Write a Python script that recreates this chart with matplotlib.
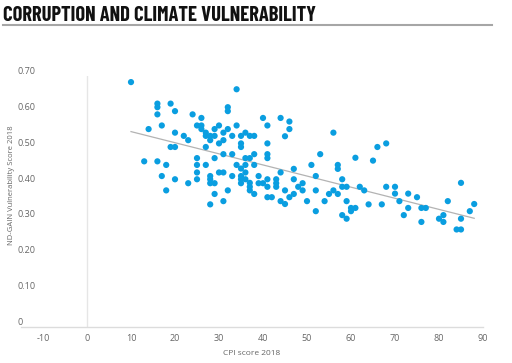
import numpy as np
import matplotlib
matplotlib.use('Agg')
import matplotlib.pyplot as plt
import matplotlib.transforms as mtransforms
from matplotlib.lines import Line2D

# CPI score 2018 (x) y ND-GAIN vulnerability 2018 (y)
cpi = [10, 16, 16, 16, 19, 20, 17, 14, 20, 19, 20, 13, 16, 18, 17, 20, 18, 22, 23, 24, 23,
       26, 25, 26, 26, 27, 27, 28, 28, 29, 29, 30, 31, 32, 31, 30, 27, 25, 25, 25, 25, 27,
       29, 31, 33, 30, 31, 28, 28, 28, 29, 32, 29, 31, 28, 32, 32, 33, 34, 33, 34,
       35, 36, 37, 38, 35, 35, 36, 37, 38, 34, 35, 36, 36, 38, 35, 35, 36, 35, 37, 37,
       37, 38, 39, 39, 40, 40, 41, 44, 46, 46, 45, 41, 41, 41, 44, 47, 41, 41, 43, 43,
       43, 47, 49, 48, 49, 45, 41, 42, 44, 45, 46, 47, 51, 53, 56, 57, 57, 52, 58, 58,
       59, 52, 56, 55, 57, 50, 54, 59, 52, 58, 59, 61, 65, 66, 68, 62, 63, 60, 61, 60,
       64, 67, 68, 70, 70, 71, 73, 75, 73, 72, 76, 77, 76, 82, 85, 80, 81, 81, 85, 84,
       85, 87, 88]
ndgain = [0.683, 0.623, 0.613, 0.593, 0.623, 0.602, 0.562, 0.552, 0.542, 0.502, 0.502,
          0.462, 0.462, 0.452, 0.421, 0.412, 0.381, 0.533, 0.521, 0.593, 0.401,
          0.583, 0.562, 0.562, 0.552, 0.542, 0.533, 0.533, 0.521, 0.552, 0.533, 0.562,
          0.542, 0.552, 0.521, 0.512, 0.502, 0.471, 0.452, 0.431, 0.412, 0.452,
          0.471, 0.482, 0.482, 0.431, 0.431, 0.421, 0.412, 0.401, 0.401, 0.381, 0.371,
          0.351, 0.342, 0.613, 0.602, 0.533, 0.562, 0.421, 0.663,
          0.533, 0.542, 0.533, 0.533, 0.512, 0.502, 0.471, 0.471, 0.482, 0.452, 0.442,
          0.452, 0.431, 0.452, 0.421, 0.412, 0.412, 0.401, 0.402, 0.391,
          0.381, 0.371, 0.421, 0.401, 0.401, 0.583, 0.562, 0.583, 0.573, 0.552, 0.532,
          0.512, 0.482, 0.471, 0.431, 0.441, 0.412, 0.391, 0.412, 0.401,
          0.391, 0.412, 0.401, 0.391, 0.381, 0.381, 0.362, 0.362, 0.351, 0.343, 0.362,
          0.371, 0.452, 0.482, 0.542, 0.452, 0.441, 0.421, 0.412, 0.391,
          0.391, 0.381, 0.381, 0.371, 0.371, 0.351, 0.351, 0.351, 0.323, 0.312, 0.302,
          0.472, 0.464, 0.502, 0.512, 0.391, 0.381, 0.332, 0.332, 0.323,
          0.342, 0.342, 0.391, 0.391, 0.372, 0.351, 0.372, 0.362, 0.332, 0.312, 0.332,
          0.332, 0.293, 0.351, 0.402, 0.302, 0.312, 0.293, 0.302, 0.272,
          0.272, 0.323, 0.343]

xticks = [-10, 0, 10, 20, 30, 40, 50, 60, 70, 80, 90]
yticks = [0, 0.1, 0.2, 0.3, 0.4, 0.5, 0.6, 0.7]
ytick_labels = ['0', '0.10', '0.20', '0.30', '0.40', '0.50', '0.60', '0.70']

plt.rcParams['font.family'] = ['Open Sans', 'DejaVu Sans']

fig = plt.figure(figsize=(5.12, 3.63), dpi=100)
ax = fig.add_axes([21 / 512, 1 - 327 / 363, 462 / 512, 251 / 363])

x = np.array(cpi, dtype=float)
y = np.array(ndgain)

# línea de tendencia (regresión lineal)
m, b = np.polyfit(x, y, 1)
xs = np.array([x.min(), x.max()])
ax.plot(xs, m * xs + b, color='#b3b3b3', lw=0.9, zorder=2)

ax.scatter(x, y, s=20, color='#0a9ee0', edgecolors='none', zorder=3)

ax.axvline(0, color='#e6e6e6', lw=1, zorder=1)

ax.set_xlim(-15, 90)
ax.set_ylim(0, 0.70)

for s in ['top', 'right', 'left']:
    ax.spines[s].set_visible(False)
ax.spines['bottom'].set_color('#dcdcdc')
ax.spines['bottom'].set_linewidth(1)

ax.set_xticks(xticks)
ax.set_xticklabels([str(t) for t in xticks])
ax.tick_params(axis='x', length=0, pad=5, labelsize=6.5, labelcolor='#666666')
ax.set_yticks([])

# etiquetas Y alineadas a la izquierda, encima de cada valor
off = mtransforms.ScaledTranslation(-3 / 100, 2 / 100, fig.dpi_scale_trans)
for v, lab in zip(yticks, ytick_labels):
    ax.text(0, v, lab, transform=ax.get_yaxis_transform() + off,
            ha='left', va='baseline', fontsize=6.5, color='#666666')

ax.set_xlabel('CPI score 2018', fontsize=6, color='#666666', labelpad=5)
fig.text(12 / 512, 1 - 185 / 363, 'ND-GAIN Vulnerability Score 2018', rotation=90,
         ha='center', va='center', fontsize=5.5, color='#666666')

fig.text(3 / 512, 1 - 21 / 363, 'CORRUPTION AND CLIMATE VULNERABILITY',
         ha='left', va='baseline', fontsize=14.8, fontweight='bold',
         family=['Barlow Condensed', 'DejaVu Sans'], color='#111111')
fig.add_artist(Line2D([3 / 512, 492 / 512], [1 - 24.5 / 363, 1 - 24.5 / 363],
                      color='#a6a6a6', lw=1.5, transform=fig.transFigure))

fig.savefig('out.png', dpi=100)
